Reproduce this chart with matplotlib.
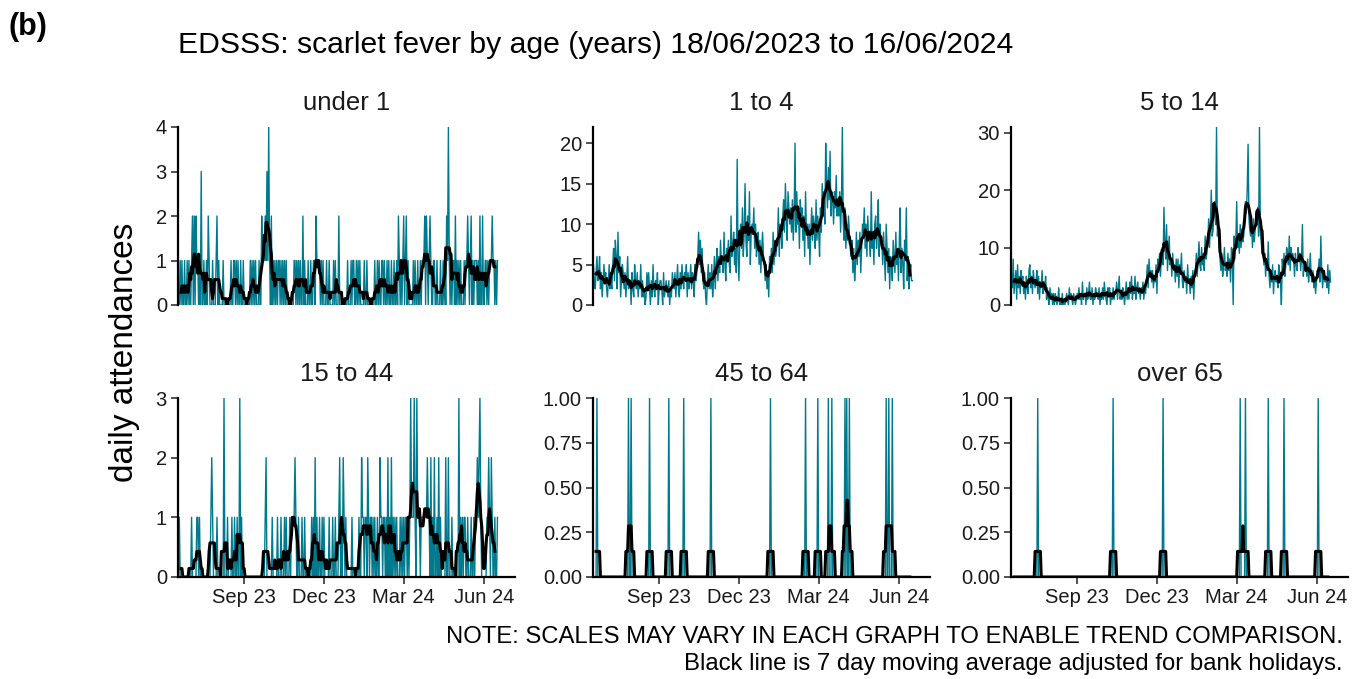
import numpy as np
import pandas as pd
import matplotlib
matplotlib.use("Agg")
import matplotlib.pyplot as plt
import matplotlib.dates as mdates
from matplotlib.ticker import FixedLocator, FormatStrFormatter

plt.rcParams["font.family"] = ["Liberation Sans", "DejaVu Sans"]

TEAL = "#00798c"

START = "2023-06-18"
END = "2024-06-16"

# daily counts, one string / row per week (Sunday start), last entry is the final day
UNDER_1 = [
    "0010100", "1001010", "0120202", "1101030", "0100102", "1000100", "0120100",
    "0010000", "0000100", "1101010", "0100100", "0000010", "1010100", "0100211",
    "1213141", "0201010", "1011010", "1010100", "0000001", "1010101", "0020100",
    "0100100", "1102111", "1010100", "0100100", "0010100", "0200000", "0000100",
    "0101100", "1010100", "0010010", "0000000", "1001010", "0110100", "1010010",
    "0100102", "1010120", "1201000", "0010100", "1001011", "1202101", "2100110",
    "0100010", "0101021", "4101011", "0201010", "1000101", "1210120", "1011101",
    "0200200", "1101011", "1211010", "1",
]

AGE_1_4 = [
    [5, 3, 2, 4, 6, 3, 4], [6, 2, 4, 1, 3, 5, 3], [4, 2, 1, 3, 5, 2, 3],
    [2, 5, 7, 3, 8, 6, 2], [9, 4, 6, 1, 3, 5, 4], [2, 4, 1, 3, 6, 2, 3],
    [3, 0, 4, 2, 1, 5, 3], [2, 4, 1, 3, 2, 5, 1], [3, 1, 2, 0, 1, 4, 2],
    [4, 2, 0, 3, 1, 5, 2], [1, 3, 2, 4, 0, 2, 3], [3, 2, 0, 4, 1, 2, 3],
    [2, 1, 3, 0, 2, 1, 4], [3, 2, 4, 1, 3, 5, 2], [1, 4, 2, 5, 3, 2, 4],
    [3, 5, 1, 4, 2, 3, 5], [2, 4, 3, 1, 5, 3, 4], [6, 9, 5, 8, 4, 7, 3],
    [2, 4, 1, 0, 3, 5, 2], [4, 2, 5, 1, 3, 6, 2], [5, 7, 3, 6, 4, 8, 5],
    [6, 4, 9, 5, 3, 7, 6], [8, 5, 4, 11, 6, 7, 9], [5, 7, 4, 18, 6, 3, 8],
    [10, 7, 12, 6, 9, 15, 8], [6, 11, 8, 14, 5, 9, 10], [9, 12, 7, 10, 6, 8, 9],
    [5, 8, 4, 7, 9, 6, 5], [3, 5, 2, 4, 1, 6, 4], [7, 4, 9, 5, 8, 6, 7],
    [8, 12, 6, 10, 9, 7, 11], [13, 9, 15, 11, 8, 14, 12], [10, 12, 9, 13, 8, 11, 20],
    [9, 14, 10, 12, 7, 13, 11], [12, 8, 11, 6, 14, 9, 10], [7, 10, 5, 9, 12, 8, 11],
    [10, 7, 13, 8, 11, 9, 6], [12, 9, 15, 11, 14, 10, 20], [15, 12, 17, 13, 19, 11, 14],
    [13, 10, 14, 12, 16, 11, 13], [11, 14, 9, 13, 22, 10, 8], [12, 7, 10, 8, 11, 9, 7],
    [6, 8, 4, 7, 3, 5, 9], [5, 8, 6, 9, 4, 7, 10], [9, 12, 7, 10, 6, 11, 8],
    [8, 6, 14, 7, 9, 5, 10], [11, 7, 9, 13, 6, 10, 8], [8, 5, 9, 6, 3, 10, 7],
    [4, 7, 2, 6, 5, 3, 8], [6, 4, 9, 5, 7, 3, 8], [12, 4, 7, 5, 2, 8, 6],
    [12, 3, 6, 2, 4, 5, 3], [3],
]

AGE_5_14 = [
    [5, 3, 8, 2, 4, 6, 1], [7, 3, 5, 2, 6, 4, 5], [2, 4, 1, 5, 3, 2, 6],
    [7, 3, 5, 2, 6, 4, 3], [4, 6, 2, 5, 1, 4, 3], [6, 2, 4, 3, 5, 1, 3],
    [1, 0, 3, 1, 2, 0, 2], [0, 2, 1, 0, 1, 3, 0], [1, 0, 2, 0, 1, 0, 1],
    [2, 1, 0, 3, 1, 2, 1], [0, 2, 1, 0, 1, 2, 1], [3, 1, 2, 0, 4, 1, 2],
    [2, 0, 3, 1, 2, 4, 1], [1, 3, 0, 2, 1, 3, 2], [2, 1, 3, 0, 2, 1, 3],
    [1, 4, 2, 1, 0, 3, 2], [3, 0, 2, 1, 3, 1, 2], [2, 4, 1, 3, 5, 1, 2],
    [1, 3, 2, 0, 2, 4, 1], [3, 1, 4, 2, 5, 1, 3], [2, 5, 1, 3, 4, 2, 3],
    [1, 3, 2, 4, 1, 3, 2], [4, 7, 3, 8, 5, 6, 4], [6, 3, 5, 4, 7, 2, 8],
    [6, 9, 5, 8, 10, 7, 17], [11, 8, 14, 6, 9, 12, 7], [8, 5, 9, 6, 7, 4, 8],
    [5, 8, 3, 7, 6, 9, 4], [3, 6, 4, 5, 2, 7, 4], [4, 2, 5, 3, 6, 1, 5],
    [6, 9, 5, 8, 11, 7, 6], [10, 7, 9, 6, 12, 8, 9], [11, 15, 10, 14, 20, 12, 13],
    [16, 18, 14, 31, 12, 15, 10], [8, 6, 9, 5, 7, 10, 6], [7, 5, 9, 6, 8, 4, 10],
    [9, 0, 12, 8, 11, 18, 10], [12, 9, 14, 10, 13, 11, 12], [14, 18, 16, 20, 28, 15, 13],
    [12, 14, 10, 15, 11, 13, 16], [14, 17, 12, 31, 13, 11, 9], [10, 7, 9, 5, 8, 6, 11],
    [5, 3, 6, 4, 7, 2, 5], [6, 4, 5, 3, 7, 5, 4], [0, 8, 6, 9, 5, 7, 10],
    [9, 7, 12, 6, 10, 8, 9], [8, 5, 9, 7, 6, 10, 8], [9, 6, 8, 14, 5, 7, 6],
    [7, 5, 8, 4, 6, 9, 5], [4, 6, 3, 5, 2, 4, 6], [5, 8, 4, 12, 6, 3, 5],
    [6, 4, 5, 3, 7, 2, 6], [4],
]

AGE_15_44 = [
    "0100000", "0000000", "0100000", "1101000", "0000000", "0012100", "0010000",
    "0003000", "1000010", "0100100", "3010000", "0000000", "0000000", "0000000",
    "0120000", "0010000", "0100010", "0010100", "0101111", "2100100", "0100100",
    "0000010", "1020100", "1001010", "0000100", "0100100", "0120102", "1010000",
    "0010000", "0001002", "1101102", "1011010", "1001002", "1101101", "0201020",
    "1010100", "0101010", "1101013", "1113103", "1110111", "1111211", "0201020",
    "0102010", "0000200", "2000100", "0000030", "1010110", "0100010", "0101121",
    "2310000", "0011210", "2100100", "1",
]

# single attendances in the sparse groups
AGE_45_64_DAYS = [
    "2023-06-22", "2023-07-28", "2023-07-31", "2023-08-21", "2023-09-12",
    "2023-09-29", "2023-10-30", "2024-01-06", "2024-02-15", "2024-02-29",
    "2024-03-12", "2024-03-16", "2024-03-31", "2024-04-02", "2024-04-05",
    "2024-05-17", "2024-05-20", "2024-05-24",
]
OVER_65_DAYS = [
    "2023-07-18", "2023-10-12", "2023-12-08", "2024-03-05", "2024-03-11",
    "2024-04-06", "2024-04-24", "2024-06-02",
]

PANEL_TITLES = ["under 1", "1 to 4", "5 to 14", "15 to 44", "45 to 64", "over 65"]
Y_TICKS = [
    [0, 1, 2, 3, 4],
    [0, 5, 10, 15, 20],
    [0, 10, 20, 30],
    [0, 1, 2, 3],
    [0, 0.25, 0.5, 0.75, 1.0],
    [0, 0.25, 0.5, 0.75, 1.0],
]
X_TICKS = ["2023-09-01", "2023-12-01", "2024-03-01", "2024-06-01"]

dates = pd.date_range(START, END, freq="D")


def from_digits(rows):
    return np.array([int(c) for c in "".join(rows)], dtype=float)


def from_rows(rows):
    return np.concatenate([np.asarray(r, dtype=float) for r in rows])


def from_events(days):
    s = pd.Series(0.0, index=dates)
    for d in days:
        s[pd.Timestamp(d)] += 1
    return s.values


series = [
    from_digits(UNDER_1),
    from_rows(AGE_1_4),
    from_rows(AGE_5_14),
    from_digits(AGE_15_44),
    from_events(AGE_45_64_DAYS),
    from_events(OVER_65_DAYS),
]

W, H = 1354, 679
fig = plt.figure(figsize=(W / 100, H / 100), dpi=100)

col_left = [178, 593, 1011]
col_w = 337
row_top = [127, 398]
row_h = [178, 179]

for i, (vals, title, yt) in enumerate(zip(series, PANEL_TITLES, Y_TICKS)):
    r, c = divmod(i, 3)
    ax = fig.add_axes([col_left[c] / W, 1 - (row_top[r] + row_h[r]) / H,
                       col_w / W, row_h[r] / H])
    # 7 day centred moving average (undefined for the first/last 3 days)
    ma = pd.Series(vals).rolling(7, center=True).mean()
    ax.plot(dates, vals, color=TEAL, lw=1.0, zorder=2)
    ax.plot(dates, ma, color="black", lw=2.2, zorder=3, solid_joinstyle="round")

    ax.set_xlim(pd.Timestamp("2023-06-17 12:00"), pd.Timestamp("2024-07-06"))
    ax.set_ylim(0, vals.max())
    ax.yaxis.set_major_locator(FixedLocator(yt))
    if max(yt) <= 1:
        ax.yaxis.set_major_formatter(FormatStrFormatter("%.2f"))

    for s in ["top", "right"]:
        ax.spines[s].set_visible(False)
    ax.spines["left"].set_linewidth(1.6)
    ax.spines["bottom"].set_linewidth(1.6)
    ax.tick_params(axis="both", direction="out", length=5, width=1.2,
                   color="#333333", labelsize=14.5, labelcolor="#1a1a1a", pad=3)
    if r == 0:
        ax.spines["bottom"].set_visible(False)
        ax.set_xticks([])
    else:
        ax.set_xticks([pd.Timestamp(t) for t in X_TICKS])
        ax.xaxis.set_major_formatter(mdates.DateFormatter("%b %y"))

    ax.set_title(title, fontsize=18.5, pad=12, color="#1a1a1a")

fig.text(8 / W, 1 - 27 / H, "(b)", fontsize=22, fontweight="bold", va="center", ha="left")
fig.text(178 / W, 1 - 45 / H, "EDSSS: scarlet fever by age (years) 18/06/2023 to 16/06/2024",
         fontsize=21.7, va="center", ha="left")
fig.text(125 / W, 1 - 352 / H, "daily attendances", fontsize=24, rotation=90,
         va="center", ha="center")
fig.text(1343 / W, 1 - 637 / H,
         "NOTE: SCALES MAY VARY IN EACH GRAPH TO ENABLE TREND COMPARISON.",
         fontsize=17.2, va="center", ha="right")
fig.text(1343 / W, 1 - 664 / H,
         "Black line is 7 day moving average adjusted for bank holidays.",
         fontsize=17.2, va="center", ha="right")

fig.savefig("out.png", dpi=100)
